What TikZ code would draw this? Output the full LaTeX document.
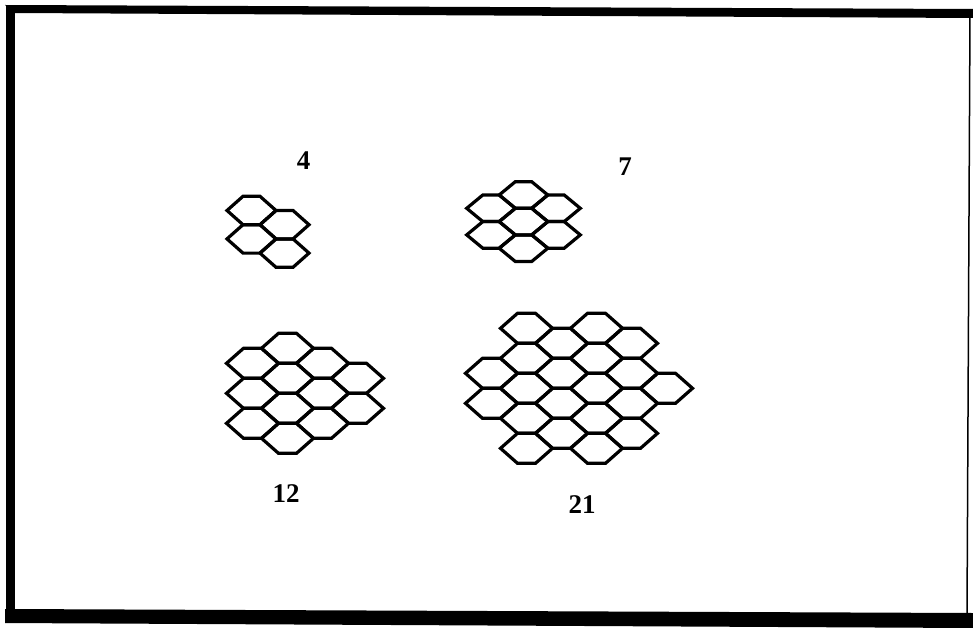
\documentclass[tikz,border=0pt]{standalone}
\usepackage{fontspec}
\setmainfont{Liberation Serif}
\newcommand\hexcell[2]{\draw[hexline] ({#1-\ha},{#2}) -- ({#1-\hb},{#2-\hh}) -- ({#1+\hb},{#2-\hh}) -- ({#1+\ha},{#2}) -- ({#1+\hb},{#2+\hh}) -- ({#1-\hb},{#2+\hh}) -- cycle;}
\begin{document}
\begin{tikzpicture}[x=1pt,y=-1pt,
  hexline/.style={line width=3.2pt,black},
  numlabel/.style={font=\bfseries\fontsize{27}{32}\selectfont,inner sep=0pt}]
\useasboundingbox (0,0) rectangle (973,628);
% frame
\fill[black] (5,5) -- (973,9) -- (973,18) -- (14,13) -- cycle;
\fill[black] (6,5) rectangle (15,623);
\fill[black] (5,609) -- (973,613) -- (973,628) -- (5,623) -- cycle;
\draw[line width=1.5pt] (970,12) -- (967,614);
% cluster 4
\def\ha{24.5}\def\hb{8.5}\def\hh{14.2}
\foreach \c/\k in {0/0,0/2,1/1,1/3}{\hexcell{251.5+\c*33}{210.5+\k*14.2}}
% cluster 7
\def\ha{24.3}\def\hb{8.2}\def\hh{13.3}
\foreach \c/\k in {0/1,0/3,1/0,1/2,1/4,2/1,2/3}{\hexcell{491+\c*32.5}{195+\k*13.3}}
% cluster 12
\def\ha{26}\def\hb{9}\def\hh{15}
\foreach \c/\k in {0/1,0/3,0/5,1/0,1/2,1/4,1/6,2/1,2/3,2/5,3/2,3/4}{\hexcell{252.5+\c*35}{348.3+\k*15}}
% cluster 21
\foreach \c/\k in {0/3,0/5,1/0,1/2,1/4,1/6,1/8,2/1,2/3,2/5,2/7,3/0,3/2,3/4,3/6,3/8,4/1,4/3,4/5,4/7,5/4}{\hexcell{491.5+\c*35}{328.3+\k*15}}
% labels
\node[numlabel] (l4) at (303.5,161) {4};
\node[numlabel] (l7) at (625,167) {7};
\node[numlabel] (l12) at (286,494) {12};
\node[numlabel] (l21) at (582,504.5) {21};
\end{tikzpicture}
\end{document}
